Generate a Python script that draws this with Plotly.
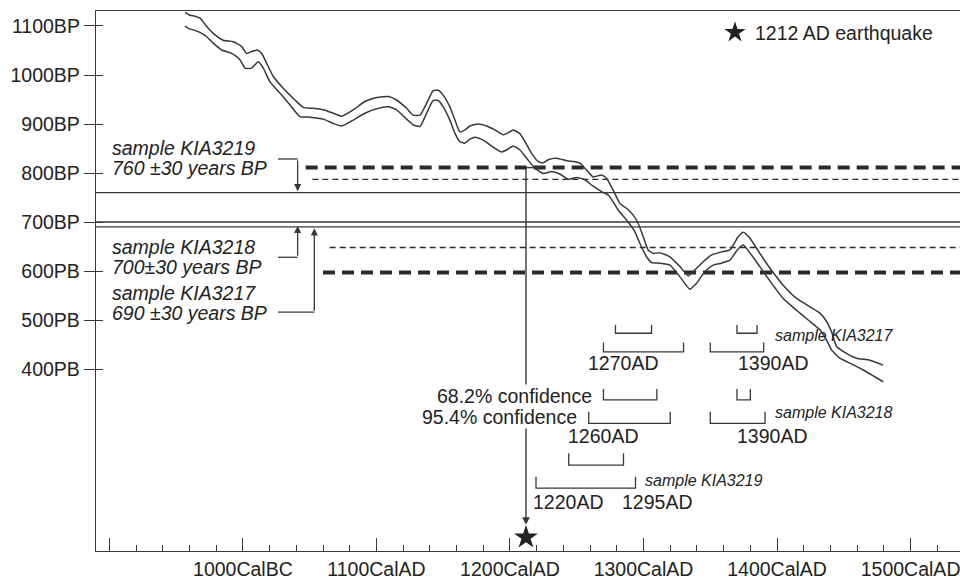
import plotly.graph_objects as go

FONT = "Liberation Sans, Arial, sans-serif"
INK = "#383838"

# ---------------- axes ----------------
X_RANGE = [890, 1537]
Y_RANGE = [28.6, 1130.6]
x_tick_vals = [900, 1000, 1100, 1200, 1300, 1400, 1500]
x_tick_text = ["", "1000CalBC", "1100CalAD", "1200CalAD", "1300CalAD", "1400CalAD", "1500CalAD"]
y_tick_vals = [400, 500, 600, 700, 800, 900, 1000, 1100]
y_tick_text = ["400PB", "500PB", "600PB", "700BP", "800BP", "900BP", "1000BP", "1100BP"]

# ---------------- calibration curve (two envelope lines) ----------------
upper_ad = [956.7, 960.4, 964.1, 967.9, 972.9, 977.8, 985.3, 992.8, 999.1, 1002.8, 1006.6, 1010.8,
            1014.1, 1017.8, 1022.8, 1030.2, 1039, 1045.2, 1052.7, 1060.2, 1067.7, 1074, 1082.7,
            1091.4, 1100.2, 1108.9, 1115.1, 1122.6, 1127.6, 1132.6, 1137.6, 1142.5, 1146.3, 1150,
            1155, 1158.8, 1162.5, 1166.3, 1170, 1176.2, 1182.5, 1188.7, 1195, 1198.7, 1202.4,
            1207.5, 1211.2, 1216.2, 1221.2, 1224.9, 1228.6, 1234.9, 1242.4, 1248.6, 1252.4,
            1257.4, 1262.3, 1268.6, 1272.4, 1277.3, 1282.3, 1287.3, 1292.3, 1296, 1299.8, 1303.5,
            1307.3, 1312.3, 1319.8, 1327.3, 1333.5, 1337.2, 1344.7, 1351, 1358.5, 1364.7, 1370.9,
            1374.6, 1379.7, 1387.1, 1394.6, 1404.6, 1414.6, 1424.6, 1432.1, 1437.1, 1440.8,
            1444.6, 1452, 1459.5, 1469.5, 1479.5]
upper_bp = [1128, 1122, 1120, 1116, 1099, 1085, 1071, 1068, 1058, 1044, 1048, 1051,
            1044, 1024, 997, 973, 949, 934, 932, 929, 922, 916, 929,
            946, 954, 956, 949, 932, 918, 918, 942, 968, 969, 959,
            935, 908, 884, 888, 896, 900, 896, 888, 878, 882, 888,
            880, 864, 840, 823, 821, 827, 830, 825, 823, 820,
            806, 792, 796, 789, 765, 738, 728, 714, 697, 670, 643,
            636, 637, 629, 609, 590, 599, 619, 633, 639, 643, 670,
            679, 667, 636, 606, 571, 544, 527, 514, 497, 476,
            446, 432, 422, 418, 408]
lower_ad = [956.7, 959.1, 964.1, 969.2, 972.9, 977.8, 984.1, 991.6, 997.8, 1001.6, 1006.6, 1011.5,
            1015.3, 1020.3, 1027.8, 1035.3, 1042.7, 1050.2, 1060.2, 1067.7, 1074, 1082.7, 1091.4,
            1100.2, 1108.9, 1115.1, 1122.6, 1127.6, 1132.6, 1137.6, 1142.5, 1146.3, 1150, 1155,
            1158.8, 1162.5, 1166.3, 1170, 1173.8, 1180, 1186.3, 1193.8, 1197.5, 1202.4, 1207.5,
            1212.5, 1218.7, 1224.9, 1231.2, 1237.4, 1243.6, 1249.9, 1256.1, 1262.3, 1268.6,
            1273.6, 1277.3, 1281.1, 1287.3, 1293.6, 1297.3, 1302.3, 1306.1, 1312.3, 1319.8,
            1327.3, 1334.7, 1339.7, 1346, 1352.2, 1358.5, 1364.7, 1370.2, 1374.6, 1379.7, 1387.1,
            1395.9, 1404.6, 1414.6, 1423.3, 1432.1, 1437.1, 1440.8, 1447, 1454.5, 1464.5, 1479.5]
lower_bp = [1100, 1095, 1091, 1085, 1078, 1065, 1051, 1044, 1031, 1014, 1014, 1027,
            1014, 986, 963, 939, 915, 914, 910, 901, 896, 908, 922,
            931, 935, 929, 910, 898, 895, 922, 948, 948, 935, 908,
            881, 864, 861, 869, 873, 867, 855, 843, 847, 855, 847,
            830, 810, 799, 803, 798, 787, 791, 786, 773, 762,
            755, 741, 724, 704, 680, 656, 629, 617, 616, 612,
            588, 563, 575, 599, 612, 616, 622, 643, 653, 637, 609,
            575, 544, 520, 500, 480, 459, 439, 422, 412, 398, 374]

# ---------------- samples ----------------
sample_names = ["KIA3219", "KIA3218", "KIA3217"]
sample_bp = [760, 700, 690]
sample_err = ["760 \u00b130 years BP", "700\u00b130 years BP", "690 \u00b130 years BP"]
sample_label_bp = [(851, 810), (649.6, 608.8), (554.5, 513.7)]
label_left_ad = 901
leader_start_ad = 1026.3
leader_corner_ad = [1041, 1041, 1053.5]
leader_corner_bp = [828.6, 628, 516]
leader_tip_bp = [763, 692, 687]

# dashed probability bands
thick_dash_bp = [811, 597]
thick_dash_start_ad = [1047, 1060]
thin_dash_bp = [787, 648]
thin_dash_start_ad = [1052, 1065]

# calibrated age ranges (start, end) in AD
cal_rows = [
    # sample, level, bottom BP, tick height BP, ranges
    ("KIA3217", "68.2", 473, 17, [(1279, 1306), (1370, 1385)]),
    ("KIA3217", "95.4", 435, 19, [(1270, 1330), (1350, 1390)]),
    ("KIA3218", "68.2", 337, 22, [(1270, 1310), (1370, 1380)]),
    ("KIA3218", "95.4", 289, 24, [(1259, 1320), (1350, 1391)]),
    ("KIA3219", "68.2", 204, 24, [(1244, 1285)]),
    ("KIA3219", "95.4", 157, 23, [(1219.5, 1294)]),
]
date_labels = [("1270AD", 1284.6, 413), ("1390AD", 1397, 413),
               ("1260AD", 1269.8, 263), ("1390AD", 1396, 263),
               ("1220AD", 1243.6, 129), ("1295AD", 1309.8, 129)]
sample_tag_pos = [("KIA3217", 1396.9, 469.4), ("KIA3218", 1396.9, 311.6), ("KIA3219", 1299.8, 173.5)]
conf_labels = [("68.2% confidence", 1261.8, 345.5), ("95.4% confidence", 1250.6, 302.7)]

EARTHQUAKE_AD = 1212
EARTHQUAKE_MARK_BP = 56.5
EQ_ARROW_TOP_BP = 811
EQ_ARROW_TIP_BP = 82
EQ_ARROW_HOOK_AD = 1223

fig = go.Figure()

# horizontal mean lines
for bp in sample_bp:
    fig.add_trace(go.Scatter(x=[X_RANGE[0], X_RANGE[1]], y=[bp, bp], mode="lines",
                             line=dict(color=INK, width=1.4), showlegend=False, hoverinfo="skip"))
for bp, st in zip(thin_dash_bp, thin_dash_start_ad):
    fig.add_trace(go.Scatter(x=[st, X_RANGE[1]], y=[bp, bp], mode="lines",
                             line=dict(color="#2a2a2a", width=1.4, dash="6px,4px"), showlegend=False, hoverinfo="skip"))
for bp, st in zip(thick_dash_bp, thick_dash_start_ad):
    fig.add_trace(go.Scatter(x=[st, X_RANGE[1]], y=[bp, bp], mode="lines",
                             line=dict(color="#2a2a2a", width=4, dash="12px,7px"), showlegend=False, hoverinfo="skip"))

# calibration curve
for xs, ys in ((upper_ad, upper_bp), (lower_ad, lower_bp)):
    fig.add_trace(go.Scatter(x=xs, y=ys, mode="lines",
                             line=dict(color=INK, width=1.5, shape="spline", smoothing=0.5),
                             showlegend=False, hoverinfo="skip"))

# calibrated range brackets
for name, lvl, base, h, ranges in cal_rows:
    bx, by = [], []
    for a, b in ranges:
        bx += [a, a, b, b, None]
        by += [base + h, base, base, base + h, None]
    fig.add_trace(go.Scatter(x=bx, y=by, mode="lines", line=dict(color=INK, width=1.3),
                             showlegend=False, hoverinfo="skip"))

# leader lines of the sample labels
for i in range(len(sample_names)):
    fig.add_trace(go.Scatter(x=[leader_start_ad, leader_corner_ad[i]],
                             y=[leader_corner_bp[i], leader_corner_bp[i]], mode="lines",
                             line=dict(color=INK, width=1.3), showlegend=False, hoverinfo="skip"))
fig.add_trace(go.Scatter(x=[EQ_ARROW_HOOK_AD, EARTHQUAKE_AD], y=[EQ_ARROW_TOP_BP, EQ_ARROW_TOP_BP],
                         mode="lines", line=dict(color=INK, width=1.4), showlegend=False, hoverinfo="skip"))

# earthquake star
fig.add_trace(go.Scatter(x=[EARTHQUAKE_AD], y=[EARTHQUAKE_MARK_BP], mode="markers",
                         marker=dict(symbol="star", size=18, color="#222222", line=dict(width=0)),
                         name="1212 AD earthquake", showlegend=True, hoverinfo="skip", cliponaxis=False))

ann = []
# earthquake arrow (drawn first so the confidence texts cover it)
ann.append(dict(x=EARTHQUAKE_AD, y=EQ_ARROW_TIP_BP, ax=EARTHQUAKE_AD, ay=EQ_ARROW_TOP_BP,
                xref="x", yref="y", axref="x", ayref="y", text="", showarrow=True,
                arrowhead=2, arrowsize=1.1, arrowwidth=1.4, arrowcolor=INK, standoff=0))
for i in range(len(sample_names)):
    ann.append(dict(x=leader_corner_ad[i], y=leader_tip_bp[i], ax=leader_corner_ad[i], ay=leader_corner_bp[i],
                    xref="x", yref="y", axref="x", ayref="y", text="", showarrow=True,
                    arrowhead=2, arrowsize=1.1, arrowwidth=1.3, arrowcolor=INK, standoff=0))
    l1, l2 = sample_label_bp[i]
    ann.append(dict(x=label_left_ad, y=l1, xref="x", yref="y", text="<i>sample " + sample_names[i] + "</i>",
                    showarrow=False, xanchor="left", yanchor="middle", borderpad=0,
                    font=dict(family=FONT, size=19.5, color="#222")))
    ann.append(dict(x=label_left_ad, y=l2, xref="x", yref="y", text="<i>" + sample_err[i] + "</i>",
                    showarrow=False, xanchor="left", yanchor="middle", borderpad=0,
                    font=dict(family=FONT, size=19.5, color="#222")))
for txt, x, y in date_labels:
    ann.append(dict(x=x, y=y, xref="x", yref="y", text=txt, showarrow=False, xanchor="center",
                    yanchor="middle", font=dict(family=FONT, size=19.5, color="#222")))
for name, x, y in sample_tag_pos:
    ann.append(dict(x=x, y=y, xref="x", yref="y", text="<i>sample " + name + "</i>", showarrow=False,
                    xanchor="left", yanchor="middle", font=dict(family=FONT, size=16, color="#222")))
for txt, x, y in conf_labels:
    ann.append(dict(x=x, y=y, xref="x", yref="y", text=txt, showarrow=False, xanchor="right",
                    yanchor="middle", bgcolor="white", borderpad=0,
                    font=dict(family=FONT, size=19.5, color="#222")))

fig.update_layout(
    width=960, height=579,
    margin=dict(l=96, r=0, t=11, b=28, autoexpand=False),
    paper_bgcolor="white", plot_bgcolor="white",
    font=dict(family=FONT, size=19.5, color="#222"),
    annotations=ann,
    showlegend=True,
    legend=dict(x=0.7164, y=0.996, xanchor="left", yanchor="top", bgcolor="rgba(0,0,0,0)",
                borderwidth=0, font=dict(family=FONT, size=19.5, color="#222"), itemsizing="trace"),
    xaxis=dict(range=X_RANGE, showgrid=False, zeroline=False, showline=True, mirror=True,
               automargin=False, ticklabeloverflow="allow",
               linecolor=INK, linewidth=1.4, ticks="inside", ticklen=13, tickwidth=1.3, tickcolor=INK,
               tickmode="array", tickvals=x_tick_vals, ticktext=x_tick_text, ticklabelstandoff=0,
               tickfont=dict(family=FONT, size=19.5, color="#222"),
               minor=dict(tickmode="linear", tick0=900, dtick=20, ticks="inside", ticklen=6,
                          tickwidth=1.2, tickcolor=INK, showgrid=False)),
    yaxis=dict(range=Y_RANGE, showgrid=False, zeroline=False, showline=True, linecolor=INK,
               automargin=False,
               linewidth=1.4, ticks="outside", ticklen=11, tickwidth=1.2, tickcolor=INK,
               tickmode="array", tickvals=y_tick_vals, ticktext=y_tick_text,
               tickfont=dict(family=FONT, size=19.5, color="#222")),
    yaxis2=dict(range=Y_RANGE, overlaying="y", side="left", showgrid=False, zeroline=False,
                automargin=False,
                showline=False, ticks="inside", ticklen=7, tickwidth=1.2, tickcolor=INK,
                tickmode="array", tickvals=y_tick_vals, showticklabels=False),
)
# dummy trace to activate the inner-tick overlay axis
fig.add_trace(go.Scatter(x=[None], y=[None], yaxis="y2", showlegend=False, hoverinfo="skip"))

fig.write_html("out.html", config={"displayModeBar": False},
               post_script="document.body.style.margin='0';document.body.style.overflow='hidden';")
